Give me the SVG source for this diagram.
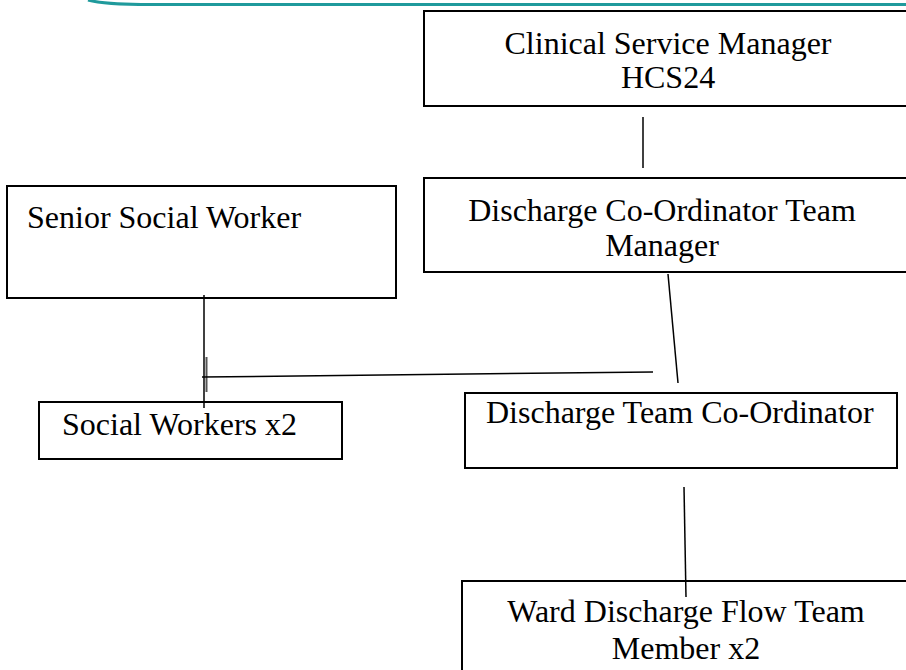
<svg xmlns="http://www.w3.org/2000/svg" width="906" height="670" viewBox="0 0 906 670">
<style>
.box{fill:#ffffff;stroke:#000000;stroke-width:2}
.t{font-family:"Liberation Serif","Times New Roman",serif;font-size:32px;fill:#000000}
.c{text-anchor:middle}
.ln{stroke:#000000;stroke-width:1.5;fill:none}
</style>
<rect width="906" height="670" fill="#ffffff"/>
<path d="M88,0 Q104,4.5 150,4.5 L906,4.5" fill="none" stroke="#1f9a9c" stroke-width="3"/>
<g id="clinical-service-manager">
<rect class="box" x="424" y="11" width="500" height="95"/>
<text class="t c" x="668" y="54">Clinical Service Manager</text>
<text class="t c" x="668" y="88">HCS24</text>
</g>
<g id="discharge-coordinator-team-manager">
<rect class="box" x="424" y="178" width="500" height="94"/>
<text class="t c" x="662" y="221">Discharge Co-Ordinator Team</text>
<text class="t c" x="662" y="256">Manager</text>
</g>
<g id="senior-social-worker">
<rect class="box" x="7" y="186" width="389" height="112"/>
<text class="t" x="27" y="228">Senior Social Worker</text>
</g>
<g id="social-workers">
<rect class="box" x="39" y="402" width="303" height="57"/>
<text class="t" x="62" y="435">Social Workers x2</text>
</g>
<g id="discharge-team-coordinator">
<rect class="box" x="465" y="393" width="432" height="75"/>
<text class="t" x="486" y="423">Discharge Team Co-Ordinator</text>
</g>
<g id="ward-discharge-flow-team">
<rect class="box" x="462" y="581" width="460" height="110"/>
<text class="t c" x="686" y="622">Ward Discharge Flow Team</text>
<text class="t c" x="686" y="659">Member x2</text>
</g>
<g id="connectors">
<line class="ln" x1="643" y1="117" x2="643" y2="168"/>
<line class="ln" x1="668" y1="274" x2="678" y2="383"/>
<line class="ln" x1="204" y1="295" x2="204" y2="408"/>
<line x1="206.5" y1="357" x2="206.5" y2="392" stroke="#555555" stroke-width="2"/>
<line class="ln" x1="202" y1="377" x2="653" y2="372"/>
<line class="ln" x1="684" y1="487" x2="686" y2="597"/>
</g>
</svg>
